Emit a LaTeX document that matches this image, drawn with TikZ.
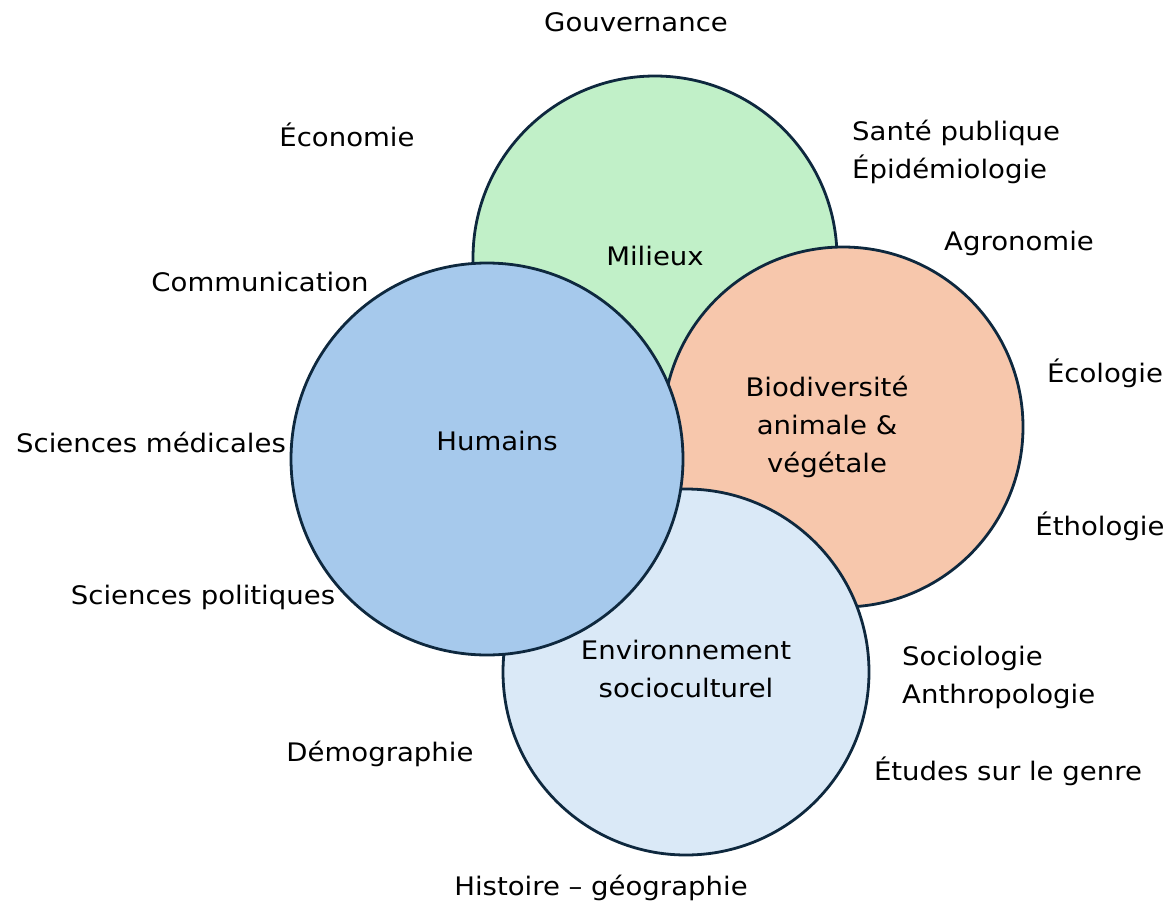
\documentclass[tikz,border=0pt]{standalone}
\usepackage{fontspec}
\setmainfont[FakeStretch=1.08]{DejaVu Sans}
\definecolor{edgec}{RGB}{14,40,62}
\definecolor{milc}{RGB}{193,240,200}
\definecolor{humc}{RGB}{166,201,236}
\definecolor{bioc}{RGB}{247,199,172}
\definecolor{envc}{RGB}{218,233,247}
\begin{document}
\begin{tikzpicture}[x=1pt,y=-1pt,
  disc/.style={circle, draw=edgec, line width=2.8pt, inner sep=0pt},
  lbl/.style={font=\fontsize{25.5}{38}\selectfont, inner sep=0pt, align=center, text=black},
  lbll/.style={lbl, align=left}]
\useasboundingbox (0,0) rectangle (1174,907);
\node[disc, fill=milc, minimum size=364pt] (mil) at (655,258) {};
\node[disc, fill=bioc, minimum size=360pt] (bio) at (843,427) {};
\node[disc, fill=envc, minimum size=366pt] (env) at (686,672) {};
\node[disc, fill=humc, minimum size=392pt] (hum) at (487,459) {};
\node[lbl] (tmil) at (655,256) {Milieux};
\node[lbl] (thum) at (497,441) {Humains};
\node[lbl] (tbio) at (827,427) {Biodiversité\\animale \&\\végétale};
\node[lbl] (tenv) at (686,669) {Environnement\\socioculturel};
\node[lbl] (gouv) at (636,22) {Gouvernance};
\node[lbl] (eco) at (347,135) {Économie};
\node[lbll, anchor=west] (sante) at (852,152) {Santé publique\\Épidémiologie};
\node[lbl] (agro) at (1019,243) {Agronomie};
\node[lbl] (comm) at (260,282) {Communication};
\node[lbl] (ecol) at (1105,373) {Écologie};
\node[lbl] (medi) at (151,442) {Sciences médicales};
\node[lbl] (etho) at (1100,526) {Éthologie};
\node[lbl] (poli) at (203,597) {Sciences politiques};
\node[lbll, anchor=west] (socio) at (902,677) {Sociologie\\Anthropologie};
\node[lbl] (demo) at (380,754) {Démographie};
\node[lbl] (genre) at (1008,771) {Études sur le genre};
\node[lbl] (hist) at (601,888) {Histoire – géographie};
\end{tikzpicture}
\end{document}
